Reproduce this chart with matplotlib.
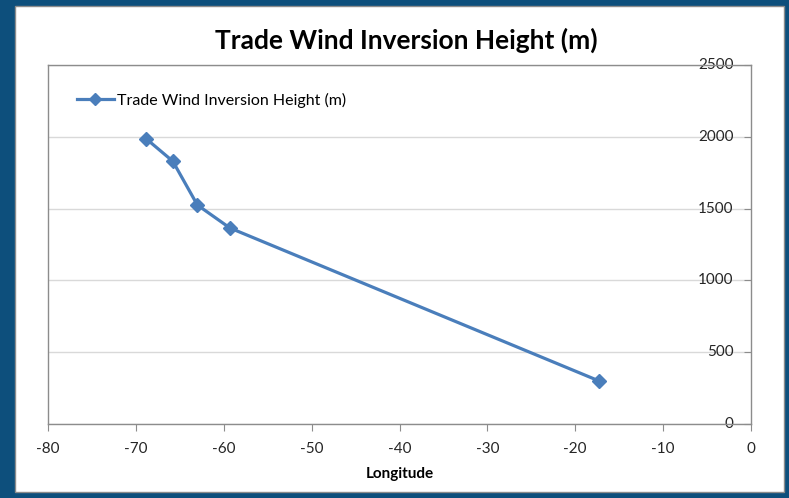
import matplotlib.pyplot as plt
from matplotlib.patches import Rectangle

# Values
longitude = [-68.8, -65.8, -63.0, -59.3, -17.3]
inversion_height = [1985, 1830, 1525, 1365, 300]
series_name = "Trade Wind Inversion Height (m)"
x_ticks = [-80, -70, -60, -50, -40, -30, -20, -10, 0]
y_ticks = [0, 500, 1000, 1500, 2000, 2500]

W, H = 789, 498
plt.rcParams["font.family"] = ["Lato", "DejaVu Sans"]

fig = plt.figure(figsize=(W / 100, H / 100), dpi=100)
fig.patch.set_facecolor("#0d4f7c")
# White chart area inside the dark frame
fig.patches.append(Rectangle((15 / W, 6 / H), (784 - 15) / W, (492 - 6) / H,
                             transform=fig.transFigure, facecolor="white",
                             edgecolor="#8c8c8c", linewidth=1, zorder=-5))

ax = fig.add_axes([48 / W, (H - 424) / H, (751 - 48) / W, (424 - 65) / H])
ax.set_facecolor("white")

ax.plot(longitude, inversion_height, color="#4a7ebb", linewidth=2.3,
        marker="D", markersize=7.5, label=series_name, zorder=3)

ax.set_xlim(-80, 0)
ax.set_ylim(0, 2500)
ax.set_xticks(x_ticks)
ax.set_yticks(y_ticks)
ax.set_xticklabels([str(t) for t in x_ticks])

# Horizontal gridlines
ax.grid(axis="y", color="#d9d9d9", linewidth=1)
ax.set_axisbelow(True)

for s in ax.spines.values():
    s.set_color("#8c8c8c")
    s.set_linewidth(1)

# Y axis sits at x=0, labels inside the plot to the left of it
ax.tick_params(axis="y", left=False, right=True, labelleft=False,
               labelright=True, direction="in", length=5, color="#8c8c8c",
               pad=-12.5, labelsize=11, labelcolor="#262626")
for lbl in ax.get_yticklabels():
    lbl.set_horizontalalignment("right")
    lbl.set_verticalalignment("center")

ax.tick_params(axis="x", direction="out", length=5, color="#8c8c8c",
               pad=8, labelsize=11, labelcolor="#262626")

ax.set_xlabel("Longitude", fontsize=11, fontweight="bold", labelpad=8)
fig.suptitle("Trade Wind Inversion Height (m)", x=406 / W, y=1 - 40 / H,
             va="center", fontsize=19, fontweight="bold", color="black")

ax.legend(loc="center left", bbox_to_anchor=(0.041, 0.9025), frameon=False,
          fontsize=11.5, handlelength=2.3, handletextpad=0.2,
          borderaxespad=0, borderpad=0, markerscale=0.75)

fig.savefig("out.png", dpi=100, facecolor=fig.get_facecolor())
